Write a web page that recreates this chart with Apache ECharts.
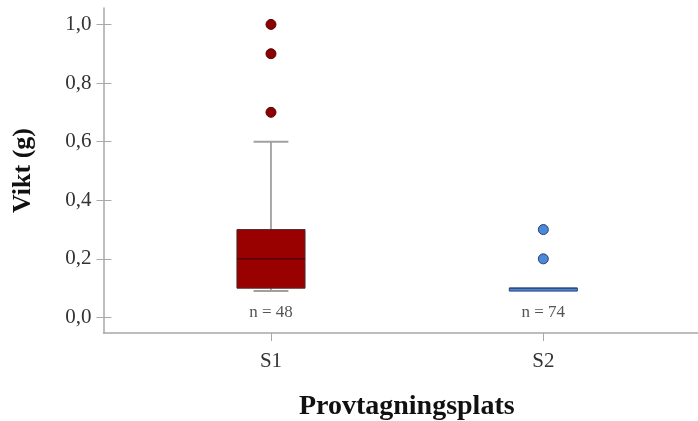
<!DOCTYPE html>
<html>
<head>
<meta charset="utf-8">
<script src="https://cdn.jsdelivr.net/npm/echarts@6/dist/echarts.min.js"></script>
<style>
  html, body { margin: 0; padding: 0; background: #fff; }
  #chart { width: 698px; height: 421px; }
</style>
</head>
<body>
<div id="chart"></div>
<script>
// Sampling sites and five-number summaries of weight (g)
const sites = ['S1', 'S2'];
const whiskerLow = [0.09, 0.09];
const q1 = [0.1, 0.09];
const median = [0.2, 0.1];
const q3 = [0.3, 0.1];
const whiskerHigh = [0.6, 0.1];
const counts = [48, 74];
// Outliers per site
const outliersS1 = [1.0, 0.9, 0.7];
const outliersS2 = [0.3, 0.2];
const yTicks = [0, 0.2, 0.4, 0.6, 0.8, 1.0];

const SERIF = '"Liberation Serif", "DejaVu Serif", serif';
const boxStyle = [
  { fill: '#990000', stroke: '#4d2a2a', median: '#4a0000' },
  { fill: '#4f86d4', stroke: '#26467a', median: '#26467a' }
];
const outlierStyle = [
  { fill: '#8b0000', stroke: '#5a0000' },
  { fill: '#4a88dc', stroke: '#2b3f66' }
];

const boxData = sites.map((s, i) => [i + 1, whiskerLow[i], q1[i], median[i], q3[i], whiskerHigh[i], counts[i]]);

function renderBox(params, api) {
  const i = params.dataIndex;
  const x = api.value(0);
  const unit = api.size([1, 0])[0];
  const halfBox = unit * 0.125;
  const halfCap = unit * 0.064;
  const pLow = api.coord([x, api.value(1)]);
  const pQ1 = api.coord([x, api.value(2)]);
  const pMed = api.coord([x, api.value(3)]);
  const pQ3 = api.coord([x, api.value(4)]);
  const pHigh = api.coord([x, api.value(5)]);
  const pZero = api.coord([x, 0]);
  const st = boxStyle[i];
  const whisker = { stroke: '#7a7a7a', lineWidth: 1.3 };
  const cap = { stroke: '#a0a0a0', lineWidth: 2 };
  const children = [];
  if (pHigh[1] < pQ3[1]) {
    children.push({ type: 'line', shape: { x1: pQ3[0], y1: pQ3[1], x2: pHigh[0], y2: pHigh[1] }, style: whisker });
    children.push({ type: 'line', shape: { x1: pHigh[0] - halfCap, y1: pHigh[1], x2: pHigh[0] + halfCap, y2: pHigh[1] }, style: cap });
  }
  if (pLow[1] > pQ1[1]) {
    children.push({ type: 'line', shape: { x1: pQ1[0], y1: pQ1[1], x2: pLow[0], y2: pLow[1] }, style: whisker });
    children.push({ type: 'line', shape: { x1: pLow[0] - halfCap, y1: pLow[1], x2: pLow[0] + halfCap, y2: pLow[1] }, style: cap });
  }
  children.push({
    type: 'rect',
    shape: { x: pQ3[0] - halfBox, y: pQ3[1], width: halfBox * 2, height: Math.max(pQ1[1] - pQ3[1], 0) },
    style: { fill: st.fill, stroke: st.stroke, lineWidth: 1 }
  });
  children.push({ type: 'line', shape: { x1: pMed[0] - halfBox, y1: pMed[1], x2: pMed[0] + halfBox, y2: pMed[1] }, style: { stroke: st.median, lineWidth: 1.3 } });
  children.push({
    type: 'text',
    x: pZero[0], y: pZero[1] - 5,
    style: { text: 'n = ' + api.value(6), fill: '#555', font: '17px ' + SERIF, align: 'center', verticalAlign: 'middle' }
  });
  return { type: 'group', children };
}

const chart = echarts.init(document.getElementById('chart'), null, { renderer: 'canvas' });
const X_MIN = 0.385, X_MAX = 2.568, Y_MIN = -0.053, Y_MAX = 1.056;
const axisGray = '#a8a8a8';

chart.setOption({
  animation: false,
  grid: { left: 103.5, right: 0, top: 8, bottom: 88, outerBoundsMode: 'none', containLabel: false },
  xAxis: [{
    type: 'value', min: X_MIN, max: X_MAX,
    name: 'Provtagningsplats', nameLocation: 'middle', nameGap: 60,
    nameTextStyle: { fontFamily: SERIF, fontSize: 28, fontWeight: 'bold', color: '#111', padding: [0, 0, 0, 12] },
    axisLine: { show: true, onZero: false, lineStyle: { color: axisGray, width: 1.5 } },
    axisTick: { show: true, customValues: [1, 2], length: 8, lineStyle: { color: axisGray } },
    axisLabel: { customValues: [1, 2], formatter: v => sites[Math.round(v) - 1] || '', margin: 18, fontFamily: SERIF, fontSize: 21, color: '#333' },
    splitLine: { show: false }
  }],
  yAxis: [{
    type: 'value', min: Y_MIN, max: Y_MAX,
    name: 'Vikt (g)', nameLocation: 'middle', nameGap: 67, nameRotate: 90,
    nameTextStyle: { fontFamily: SERIF, fontSize: 26, fontWeight: 'bold', color: '#111' },
    axisLine: { show: true, onZero: false, lineStyle: { color: axisGray, width: 1.5 } },
    axisTick: { show: true, customValues: yTicks, length: 7, lineStyle: { color: axisGray } },
    axisLabel: { customValues: yTicks, formatter: v => v.toFixed(1).replace('.', ','), margin: 12, fontFamily: SERIF, fontSize: 21, color: '#333' },
    splitLine: { show: false }
  }, {
    type: 'value', min: Y_MIN, max: Y_MAX, position: 'left',
    axisLine: { show: false },
    axisTick: { show: true, inside: true, customValues: yTicks, length: 8, lineStyle: { color: axisGray } },
    axisLabel: { show: false }, splitLine: { show: false }
  }],
  series: [{
    type: 'custom',
    renderItem: renderBox,
    encode: { x: 0, y: [1, 2, 3, 4, 5] },
    data: boxData,
    z: 2
  }, {
    type: 'scatter',
    symbolSize: 10,
    data: outliersS1.map(v => [1, v]),
    itemStyle: { color: outlierStyle[0].fill, borderColor: outlierStyle[0].stroke, borderWidth: 1, opacity: 1 },
    z: 3
  }, {
    type: 'scatter',
    symbolSize: 10,
    data: outliersS2.map(v => [2, v]),
    itemStyle: { color: outlierStyle[1].fill, borderColor: outlierStyle[1].stroke, borderWidth: 1, opacity: 1 },
    z: 3
  }]
});
</script>
</body>
</html>
